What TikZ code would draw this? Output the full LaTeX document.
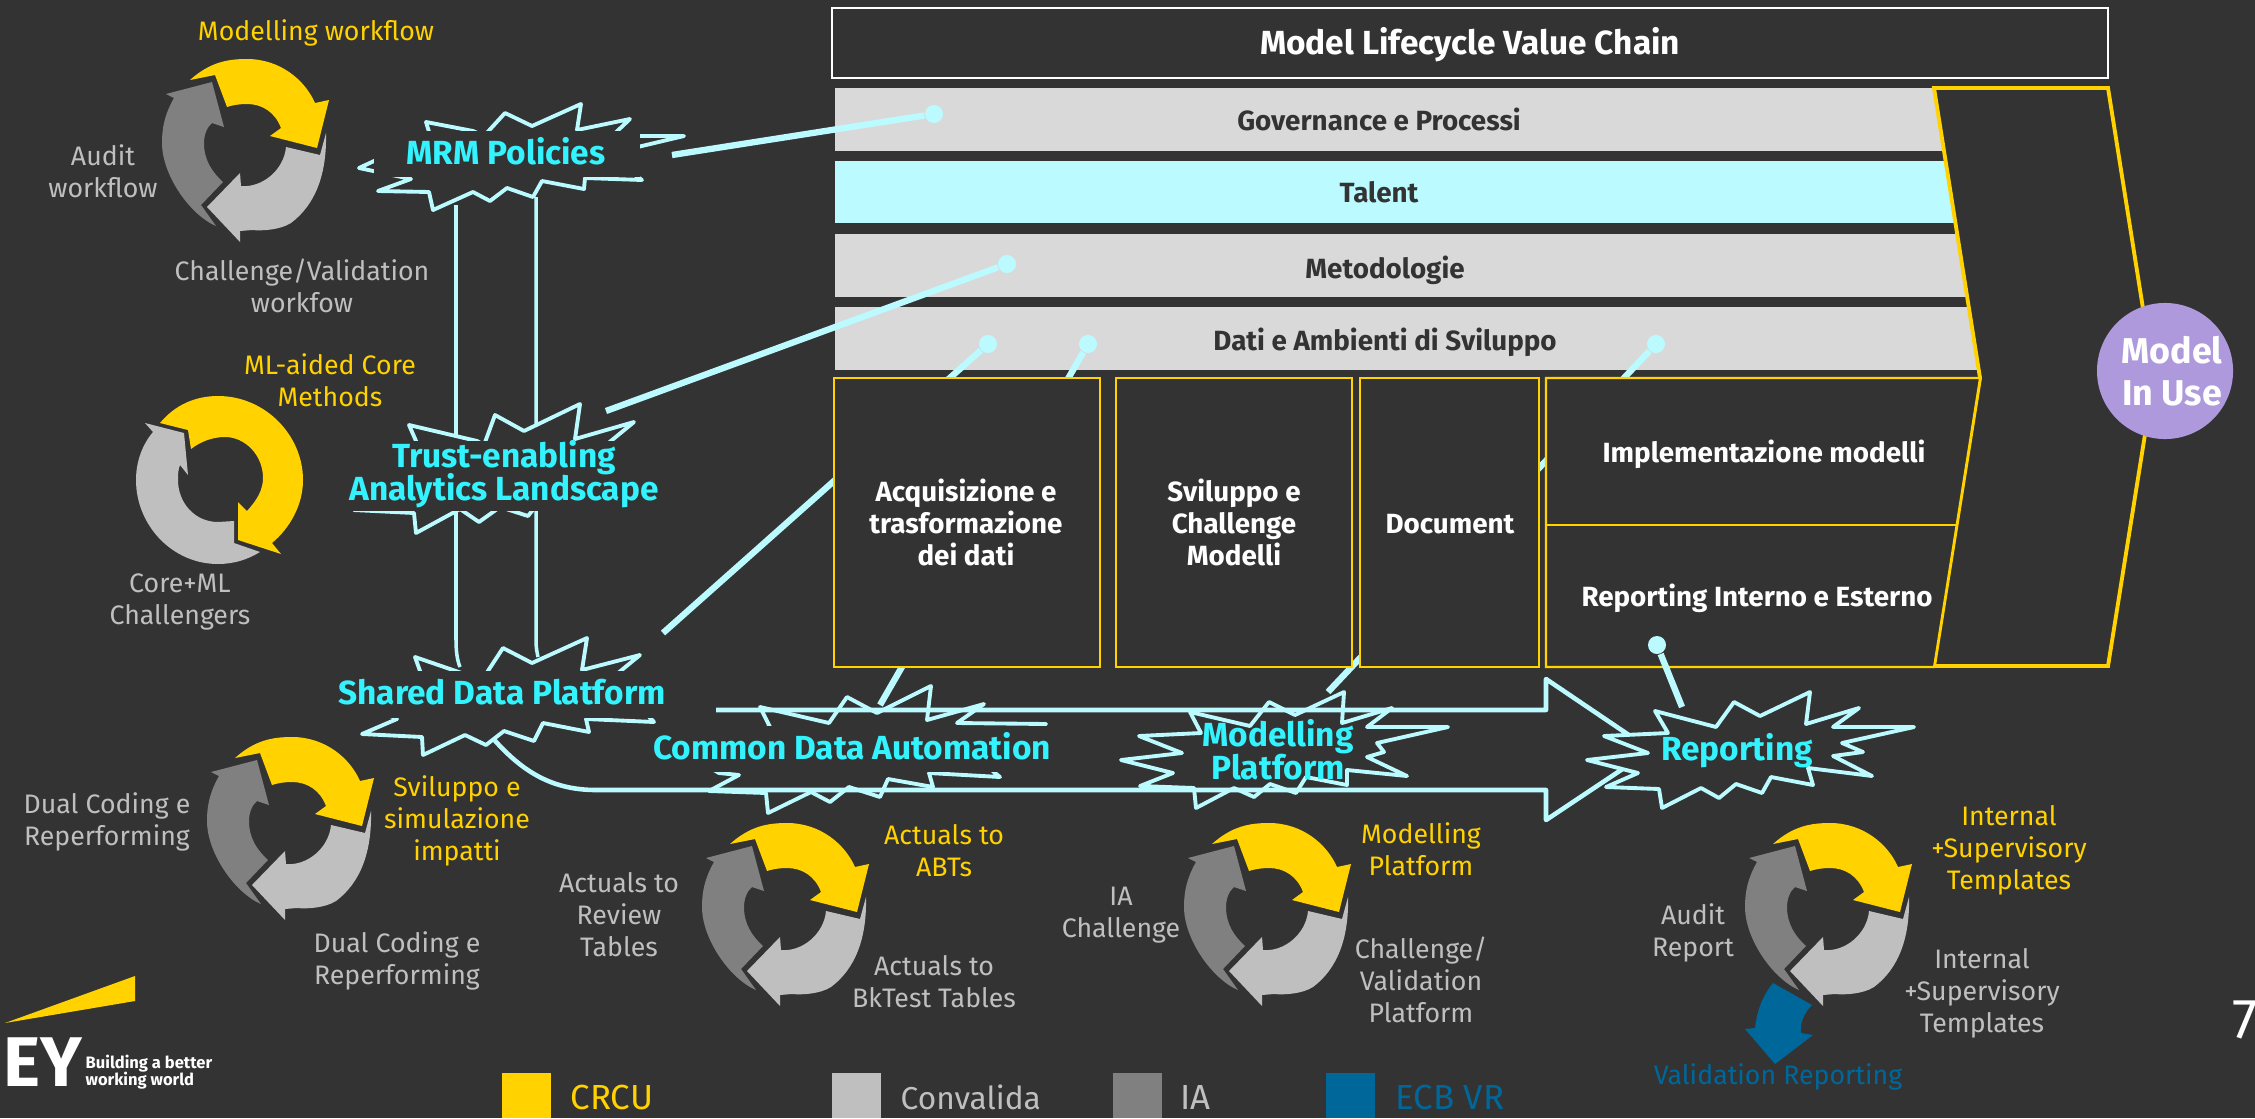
\documentclass[tikz,border=0pt]{standalone}
\usepackage{fontspec}
\setmainfont{Fira Sans}
\definecolor{bgdark}{HTML}{333333}
\definecolor{eyyellow}{HTML}{FFD200}
\definecolor{lightgrey}{HTML}{BFBFBF}
\definecolor{midgrey}{HTML}{808080}
\definecolor{ecbblue}{HTML}{00679B}
\definecolor{burstline}{HTML}{BBFBFF}
\definecolor{bursttext}{HTML}{33F3FF}
\definecolor{barfill}{HTML}{D9D9D9}
\definecolor{usefill}{HTML}{AD99DB}
\tikzset{x=0.01cm, y=-0.01cm,
  lbl/.style={align=center, inner sep=0pt, font=\fontsize{7.6}{9.1}\selectfont},
  greylbl/.style={lbl, text=lightgrey},
  yellowlbl/.style={lbl, text=eyyellow},
  burstlbl/.style={align=center, inner sep=0pt, text=bursttext, font=\fontsize{9.5}{9.3}\selectfont\bfseries\lineskiplimit -10pt\relax},
  barlbl/.style={align=center, inner sep=0pt, font=\fontsize{7.9}{9.1}\selectfont\bfseries},
  boxlbl/.style={barlbl, text=white},
  burst/.style={draw=burstline, line width=1.1pt, line join=round, fill=bgdark},
  callout/.style={draw=burstline, line width=1.8pt},
  calloutdot/.style={circle, fill=burstline, inner sep=0pt, minimum size=0.18cm},
  valuebox/.style={draw=eyyellow, line width=0.6pt, fill=bgdark},
  bar/.style={fill=barfill},
  legendlbl/.style={lbl, anchor=west, font=\fontsize{9.9}{10}\selectfont},
  threearrows/.pic={
    \fill[eyyellow] (190,80) .. controls (210,62) and (228,59) .. (247,59) .. controls (280,59) and (305,80) .. (315,103) -- (329,100) -- (317,148) -- (270,136) -- (281,128) .. controls (275,112) and (262,104) .. (247,104) .. controls (240,104) and (233,105) .. (227,107) -- (215,75) -- cycle;
    \fill[lightgrey] (326,133) .. controls (327,175) and (315,205) .. (291,223) .. controls (280,230) and (262,231) .. (252,230) -- (240,231) -- (240,242) -- (207,207) -- (240,173) -- (241,186) .. controls (262,188) and (284,170) .. (286,147) -- (320,155) -- cycle;
    \fill[midgrey] (212,82) -- (166,94) -- (174,98) .. controls (166,112) and (162,125) .. (162,143) .. controls (162,175) and (190,215) .. (216,226) -- (201,205) -- (223,182) .. controls (212,172) and (204,160) .. (204,143) .. controls (204,135) and (207,127) .. (212,123) -- (224,127) -- cycle;
  }}
\begin{document}
\begin{tikzpicture}
\clip (0,0) rectangle (2255,1118);
\fill[bgdark] (0,0) rectangle (2255,1118);

% workflow cycles
\pic at (0,0) {threearrows};
\pic at (45,678) {threearrows};
\pic at (540,764) {threearrows};
\pic at (1022,764) {threearrows};
\fill[ecbblue] (1773,983) -- (1812,1005) .. controls (1803,1014) and (1800,1024) .. (1801,1033) -- (1813,1035) -- (1775,1064) -- (1745,1029) -- (1755,1028) .. controls (1757,1010) and (1763,995) .. (1773,983) -- cycle;
\pic at (1583,764) {threearrows};
\fill[eyyellow] (160,423) .. controls (175,405) and (195,396) .. (218,396) .. controls (265,396) and (303,435) .. (303,480) .. controls (303,505) and (290,528) .. (272,543) -- (281,554) -- (238,540) -- (238,502) -- (247,511) .. controls (257,500) and (263,490) .. (263,478) .. controls (263,455) and (245,437) .. (225,437) .. controls (212,437) and (200,442) .. (191,449) -- (188,430) -- cycle;
\fill[lightgrey] (145,423) -- (184,433) -- (188,475) -- (180,465) .. controls (178,470) and (178,475) .. (178,480) .. controls (178,503) and (195,522) .. (218,522) -- (234,521) -- (234,543) -- (260,552) .. controls (247,560) and (233,564) .. (218,564) .. controls (172,564) and (136,525) .. (136,480) .. controls (136,462) and (142,445) .. (153,432) -- cycle;

% cycle labels
\node (modwf) [yellowlbl] at (316,33) {Modelling workflow};
\node (auditwf) [greylbl] at (103,171) {Audit\\workflow};
\node (challwf) [greylbl] at (302,286) {Challenge/Validation\\workfow};
\node (mlcore) [yellowlbl] at (330,380) {ML-aided Core\\Methods};
\node (coreml) [greylbl] at (180,602) {Core+ML\\Challengers};
\node (dualleft) [greylbl] at (107,822) {Dual Coding e\\Reperforming};
\node (svil) [yellowlbl] at (457,821) {Sviluppo e\\simulazione\\impatti};
\node (dualright) [greylbl] at (397,961) {Dual Coding e\\Reperforming};
\node (actreview) [greylbl] at (619,915) {Actuals to\\Review\\Tables};
\node (actabt) [yellowlbl] at (944,851) {Actuals to\\ABTs};
\node (actbk) [greylbl] at (934,982) {Actuals to\\BkTest Tables};
\node (iachall) [greylbl] at (1121,915) {IA\\Challenge};
\node (modplat) [yellowlbl] at (1421,849) {Modelling\\Platform};
\node (chplat) [greylbl] at (1421,980) {Challenge/\\Validation\\Platform};
\node (inttop) [yellowlbl] at (2009,850) {Internal\\+Supervisory\\Templates};
\node (audrep) [greylbl] at (1693,933) {Audit\\Report};
\node (intbot) [greylbl] at (1982,993) {Internal\\+Supervisory\\Templates};
\node (valrep) [lbl, text=ecbblue] at (1778,1077) {Validation Reporting};

% value chain
\node (chain) [draw=white, line width=0.45pt, fill=bgdark, minimum width=12.75cm, minimum height=0.70cm, inner sep=0pt] at (1470,43) {};
\node (chainlbl) [boxlbl, font=\fontsize{9.5}{9}\selectfont\bfseries] at (1470,45) {Model Lifecycle Value Chain};
\fill[bar] (835,88) rectangle (2000,151);
\fill[burstline] (835,161) rectangle (2000,223);
\fill[bar] (835,234) rectangle (2000,297);
\fill[bar] (835,307) rectangle (2000,370);
\node (gov) [barlbl, text=bgdark] at (1379,119) {Governance e Processi};
\node (talent) [barlbl, text=bgdark] at (1379,192) {Talent};
\node (metod) [barlbl, text=bgdark] at (1385,270) {Metodologie};
\node (dati) [barlbl, text=bgdark] at (1385,342) {Dati e Ambienti di Sviluppo};
\draw[draw=eyyellow, line width=1.1pt, fill=bgdark] (1934,88) -- (2108,88) -- (2154,378) -- (2108,666) -- (1934,666) -- (1980,378) -- cycle;

% callouts to the chain
\node (dotgov) [calloutdot] at (934,114) {};
\node (dotmet) [calloutdot] at (1007,264) {};
\node (dotacq) [calloutdot] at (988,344) {};
\node (dotsvi) [calloutdot] at (1088,344) {};
\node (dotimp) [calloutdot] at (1656,344) {};
\coordinate (tailmrm) at (672,155);
\coordinate (tailtrust) at (606,411);
\coordinate (tailshared) at (663,633);
\coordinate (tailcommon) at (880,705);
\coordinate (tailmodel) at (1328,692);
\coordinate (tailreport) at (1682,707);
\draw[callout] (tailmrm) -- (dotgov);
\draw[callout] (tailtrust) -- (dotmet);
\draw[callout] (tailshared) -- (dotacq);
\draw[callout] (tailcommon) -- (dotsvi);
\draw[callout] (tailmodel) -- (dotimp);

\draw[valuebox] (834,378) rectangle (1100,667);
\draw[valuebox] (1116,378) rectangle (1352,667);
\draw[valuebox] (1360,378) rectangle (1539,667);
\draw[valuebox] (1546,378) -- (1980,378) -- (1934,667) -- (1546,667) -- cycle;
\draw[valuebox] (1546,525) -- (1957,525);
\node (acq) [boxlbl] at (966,522) {Acquisizione e\\trasformazione\\dei dati};
\node (svimod) [boxlbl] at (1234,522) {Sviluppo e\\Challenge\\Modelli};
\node (doc) [boxlbl] at (1450,524) {Document};
\node (impl) [boxlbl] at (1764,454) {Implementazione modelli};
\node (repint) [boxlbl] at (1757,598) {Reporting Interno e Esterno};
\node (inuse) [circle, fill=usefill, inner sep=0pt, minimum size=1.36cm] at (2165,371) {};
\node (inuselbl) [inner sep=0pt, text=white, align=center, font=\fontsize{10.2}{12}\selectfont\bfseries] at (2172,371) {Model\\In Use};
\node (dotrep) [calloutdot] at (1657,645) {};
\draw[callout] (tailreport) -- (dotrep);

% platform pillars
\draw[burstline, line width=1pt] (456,205) -- (456,640) .. controls (456,650) and (457,660) .. (460,667);
\draw[burstline, line width=1pt] (536,197) -- (536,640) .. controls (536,648) and (537,652) .. (538,657);

% bursts
\draw[burst] (426,122) -- (473,131) -- (484,136) -- (505,113) -- (532,126) -- (581,104) -- (577,130) -- (630,119) -- (612,136) -- (684,136) -- (625,150) -- (620,165) -- (642,180) -- (585,178) -- (584,189) -- (542,181) -- (533,197) -- (507,188) -- (490,201) -- (473,192) -- (433,210) -- (429,192) -- (378,191) -- (411,179) -- (359,168) -- (430,135) -- cycle;
\fill[bgdark] (374,131) rectangle (640,177);
\node (mrm) [burstlbl] at (506,151) {MRM Policies};

\draw[burst] (409,425) -- (477,441) -- (484,445) -- (495,415) -- (524,431) -- (580,404) -- (575,439) -- (634,422) -- (606,445) -- (650,490) -- (540,500) -- (532,511) -- (528,516) -- (500,507) -- (479,522) -- (460,509) -- (416,533) -- (414,513) -- (354,510) -- (400,480) -- (350,460) -- (420,450) -- cycle;
\fill[bgdark] (345,441) rectangle (662,510.5);
\node (trust) [burstlbl] at (504,474) {Trust-enabling\\Analytics Landscape};

\draw[burst] (760,707) -- (829,723) -- (847,697) -- (877,713) -- (931,686) -- (927,720) -- (984,704) -- (957,723) -- (1046,724) -- (970,750) -- (995,773) -- (1000,777) -- (929,773) -- (933,787) -- (888,779) -- (880,797) -- (849,787) -- (830,802) -- (811,792) -- (768,813) -- (766,793) -- (709,791) -- (739,775) -- (719,773) -- (680,750) -- (770,727) -- cycle;
\fill[bgdark] (650,726) rectangle (1052,772);
\node (common) [burstlbl] at (852,746) {Common Data Automation};

\draw[burst, fill=none] (1190,712) -- (1250,726) -- (1269,702) -- (1295,715) -- (1344,692) -- (1342,723) -- (1392,708) -- (1367,727) -- (1448,727) -- (1377,743) -- (1384,752) -- (1367,757) -- (1407,776) -- (1347,770) -- (1347,785) -- (1306,777) -- (1296,793) -- (1270,784) -- (1254,797) -- (1234,788) -- (1196,808) -- (1194,788) -- (1140,786) -- (1173,773) -- (1121,760) -- (1182,753) -- (1139,736) -- (1201,733) -- cycle;

% data flow arrow
\coordinate (flowstart) at (716,710);
\coordinate (flowend) at (490,735);
\draw[burstline, line width=1.3pt, line join=round] (flowstart) -- (1546,710) -- (1546,679) -- (1651,750) -- (1546,820) -- (1546,790) -- (596,790) .. controls (550,790) and (520,770) .. (flowend);
\node (modelling) [burstlbl] at (1278,750) {Modelling\\Platform};

\draw[burst] (415,657) -- (420,671) -- (425,680) -- (345,695) -- (397,719) -- (362,734) -- (422,737) -- (423,755) -- (465,735) -- (486,745) -- (504,731) -- (534,741) -- (543,723) -- (589,732) -- (586,719) -- (654,722) -- (612,678) -- (640,655) -- (582,670) -- (587,638) -- (532,663) -- (503,648) -- (482,680) -- cycle;
\fill[bgdark] (338,671) rectangle (665,718);
\node (shared) [burstlbl] at (502,692) {Shared Data Platform};

\draw[burst] (1655,711) -- (1716,727) -- (1734,702) -- (1760,716) -- (1810,692) -- (1806,724) -- (1859,708) -- (1833,727) -- (1914,727) -- (1842,743) -- (1863,752) -- (1833,756) -- (1872,776) -- (1808,768) -- (1813,785) -- (1771,777) -- (1762,793) -- (1736,784) -- (1719,798) -- (1701,788) -- (1662,808) -- (1659,789) -- (1606,787) -- (1638,773) -- (1587,760) -- (1648,753) -- (1604,736) -- (1668,733) -- cycle;
\node (report) [burstlbl] at (1737,751) {Reporting};

% logo
\fill[eyyellow] (5,1023) -- (135,976) -- (135,1001) -- cycle;
\node (eylogo) [inner sep=0pt, text=white, font=\fontsize{20}{20}\selectfont\bfseries, anchor=west] at (3,1062) {EY};
\node (eytag) [inner sep=0pt, text=white, align=left, anchor=west, font=\fontsize{4.7}{4.9}\selectfont\bfseries] at (85,1072) {Building a better\\working world};

% legend
\fill[eyyellow] (502,1073) rectangle (551,1118);
\fill[lightgrey] (832,1073) rectangle (881,1118);
\fill[midgrey] (1113,1073) rectangle (1162,1118);
\fill[ecbblue] (1326,1073) rectangle (1375,1118);
\node (legcrcu) [legendlbl, text=eyyellow] at (570,1097) {CRCU};
\node (legconv) [legendlbl, text=lightgrey, font=\fontsize{9}{10}\selectfont] at (900,1097) {Convalida};
\node (legia) [legendlbl, text=lightgrey] at (1180,1097) {IA};
\node (legecb) [legendlbl, text=ecbblue] at (1395,1097) {ECB VR};
\node (pagenum) [inner sep=0pt, text=white, anchor=west, font=\fontsize{16}{16}\selectfont] at (2232,1020) {7};
\end{tikzpicture}
\end{document}
